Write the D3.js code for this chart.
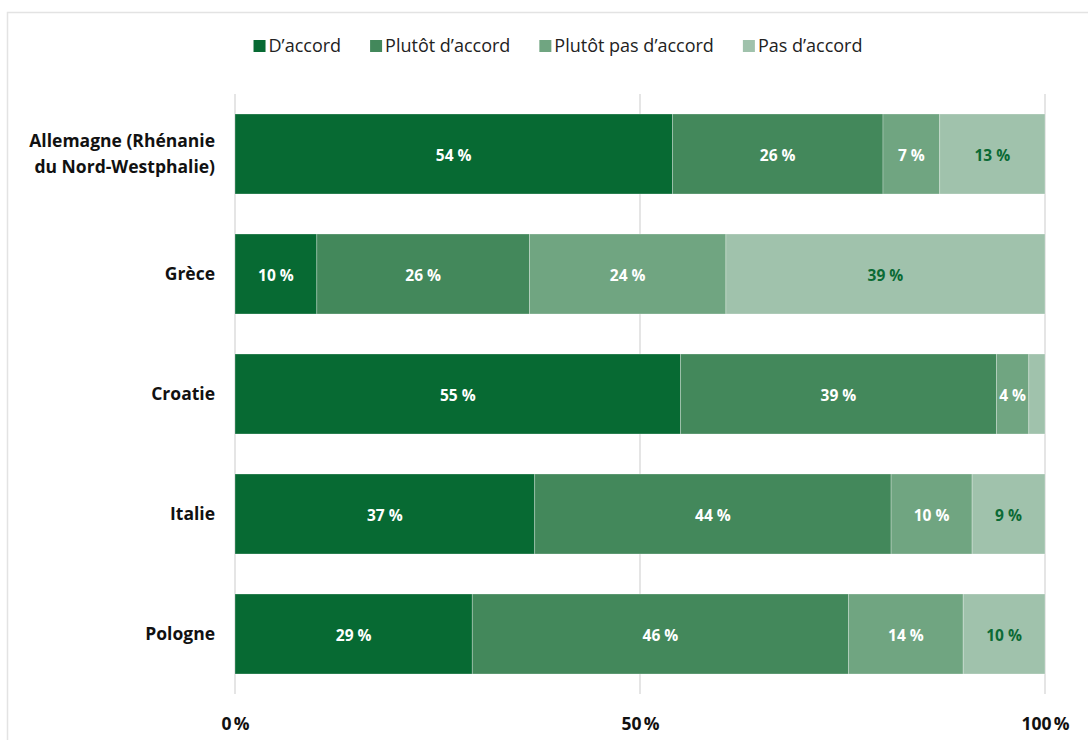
<!DOCTYPE html>
<html>
<head>
<meta charset="utf-8">
<script src="https://cdn.jsdelivr.net/npm/d3@7"></script>
<style>
  html, body { margin: 0; padding: 0; background: #ffffff; }
  svg { display: block; font-family: "Open Sans", "Noto Sans", sans-serif; }
</style>
</head>
<body>
<svg id="chart" width="1088" height="740"></svg>
<script>
// Regions surveyed
const regions = [
  ["Allemagne (Rhénanie", "du Nord-Westphalie)"],
  ["Grèce"],
  ["Croatie"],
  ["Italie"],
  ["Pologne"]
];
const regionKeys = regions.map(r => r.join(" "));

// Answer categories and their colours
const answers = ["D’accord", "Plutôt d’accord", "Plutôt pas d’accord", "Pas d’accord"];
const answerColors = ["#076a33", "#43885b", "#70a581", "#a0c2ac"];
const labelColors = ["#ffffff", "#ffffff", "#ffffff", "#0b6a35"];

// Shares (%) per region, one array per answer
const accord        = [54, 10, 55, 37, 29];
const plutotAccord  = [26, 26, 39, 44, 46];
const plutotPas     = [7, 24, 4, 10, 14];
const pasAccord     = [13, 39, 2, 9, 10];

// Axis ticks
const tickValues = [0, 50, 100];

const series = [accord, plutotAccord, plutotPas, pasAccord];

const svg = d3.select("#chart");

// Outer frame
svg.append("rect")
  .attr("x", 7.5).attr("y", 12.5)
  .attr("width", 1100).attr("height", 760)
  .attr("fill", "none")
  .attr("stroke", "#e3e3e3")
  .attr("stroke-width", 1.5);

const x = d3.scaleLinear().domain([0, 100]).range([235, 1045]);
const y = d3.scaleBand().domain(regionKeys).range([94, 694])
  .paddingInner(1 / 3).paddingOuter(1 / 6);

// Rows normalised to 100 %
const rows = regionKeys.map((key, i) => {
  const vals = series.map(s => s[i]);
  const total = d3.sum(vals);
  const row = { key };
  answers.forEach((a, j) => { row[a] = vals[j] / total * 100; row[a + "_raw"] = vals[j]; });
  return row;
});
const stacked = d3.stack().keys(answers)(rows);

// Vertical gridlines
svg.append("g")
  .selectAll("line")
  .data(tickValues)
  .join("line")
  .attr("x1", d => x(d)).attr("x2", d => x(d))
  .attr("y1", 94).attr("y2", 694)
  .attr("stroke", "#dcdcdc")
  .attr("stroke-width", 1.5);

// Bars
const layer = svg.append("g")
  .selectAll("g")
  .data(stacked)
  .join("g")
  .attr("fill", (d, i) => answerColors[i]);

layer.selectAll("rect")
  .data(d => d)
  .join("rect")
  .attr("x", d => x(d[0]))
  .attr("y", d => y(d.data.key))
  .attr("width", d => x(d[1]) - x(d[0]))
  .attr("height", y.bandwidth())
  .attr("stroke", "#ffffff")
  .attr("stroke-opacity", 0.35)
  .attr("stroke-width", 0.8);

// Value labels
stacked.forEach((s, i) => {
  svg.append("g")
    .selectAll("text")
    .data(s.filter(d => d.data[answers[i] + "_raw"] >= 3))
    .join("text")
    .attr("x", d => (x(d[0]) + x(d[1])) / 2)
    .attr("y", d => y(d.data.key) + y.bandwidth() / 2 + 2)
    .attr("dy", "0.35em")
    .attr("text-anchor", "middle")
    .attr("fill", labelColors[i])
    .attr("font-size", 15.5)
    .attr("font-weight", 700)
    .text(d => d.data[answers[i] + "_raw"] + "\u00A0%");
});

// Category labels
const catG = svg.append("g");
regions.forEach((lines, i) => {
  const cy = y(regionKeys[i]) + y.bandwidth() / 2;
  const lh = 26;
  const t = catG.append("text")
    .attr("text-anchor", "end")
    .attr("font-size", 17.5)
    .attr("font-weight", 700)
    .attr("fill", "#111111");
  lines.forEach((ln, k) => {
    t.append("tspan")
      .attr("x", 215)
      .attr("y", cy + (k - (lines.length - 1) / 2) * lh)
      .attr("dy", "0.35em")
      .text(ln);
  });
});

// X axis labels
const xAxis = d3.axisBottom(x)
  .tickValues(tickValues)
  .tickSize(0)
  .tickPadding(0)
  .tickFormat(d => d + "\u202F%");
const axG = svg.append("g")
  .attr("transform", "translate(0,718)")
  .call(xAxis);
axG.select(".domain").remove();
axG.selectAll("text")
  .attr("font-family", "\"Open Sans\", sans-serif")
  .attr("font-size", 17.5)
  .attr("font-weight", 700)
  .attr("fill", "#111111");

// Legend
const legend = svg.append("g");
let lx = 0;
const items = [];
answers.forEach((a, i) => {
  const g = legend.append("g");
  g.append("rect")
    .attr("x", 0).attr("y", -6)
    .attr("width", 12).attr("height", 12)
    .attr("fill", answerColors[i]);
  const t = g.append("text")
    .attr("x", 15).attr("y", 0).attr("dy", "0.35em")
    .attr("font-size", 18)
    .attr("fill", "#222222")
    .text(a);
  items.push({ g, w: 15 + t.node().getComputedTextLength() });
});
const gap = 29;
items.forEach(it => { it.g.attr("transform", `translate(${lx},0)`); lx += it.w + gap; });
const legendW = lx - gap;
legend.attr("transform", `translate(${558 - legendW / 2},46)`);
</script>
</body>
</html>
